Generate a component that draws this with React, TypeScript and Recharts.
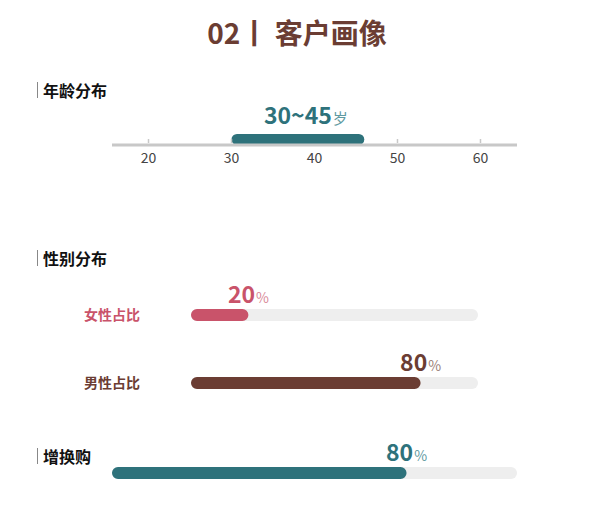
import React from 'react';
import { BarChart, Bar, XAxis, YAxis, Cell, LabelList } from 'recharts';

// age distribution
const ageTicks = [20, 30, 40, 50, 60];
const ageDomain = [15.6, 64.4];
const ageRange = [30, 46];
const ageLabel = '30~45';

// gender split
const genderNames = ['女性占比', '男性占比'];
const genderValues = [20, 80];

// trade-in share
const tradeInNames = ['增换购'];
const tradeInValues = [80];
const tradeInMax = 110;

const TEAL = '#2e727b';
const PINK = '#c9536a';
const BROWN = '#6b3d33';
const TRACK = '#eeeeee';
const genderColors = [PINK, BROWN];
const genderLight = ['#d98a99', '#9a7f78'];

const FONT = "'Noto Sans CJK SC', 'Noto Sans', sans-serif";

const ageData = [{ name: 'age', range: ageRange }];
const genderData = genderNames.map((name, i) => ({ name, value: genderValues[i] }));
const tradeInData = tradeInNames.map((name, i) => ({ name, value: tradeInValues[i] }));

const SectionTitle = ({ text, top }: { text: string; top: number }) => (
  <div style={{ position: 'absolute', left: 37, top, height: 20, display: 'flex', alignItems: 'center' }}>
    <div style={{ width: 1, height: 16, background: '#888' }} />
    <div style={{ marginLeft: 5, fontSize: 16, fontWeight: 700, color: '#111', lineHeight: '20px' }}>{text}</div>
  </div>
);

const AgeTick = (props: any) => {
  const { x, y, payload } = props;
  // the bar hides the tick marks it sits on
  const underBar = payload.value > ageRange[0] && payload.value < ageRange[1];
  return (
    <g>
      {!underBar && <line x1={x} x2={x} y1={y - 8} y2={y - 4} stroke="#c8c8c8" strokeWidth={1.5} />}
      <text x={x} y={y + 16} textAnchor="middle" fontSize={14} fill="#444" fontFamily={FONT}>
        {payload.value}
      </text>
    </g>
  );
};

const AgeLabel = (props: any) => {
  const { x, y, width } = props;
  return (
    <text x={x + width / 2 + 8} y={y - 10} textAnchor="middle" fontFamily={FONT}>
      <tspan fontSize={23} fontWeight={700} fill={TEAL}>{ageLabel}</tspan>
      <tspan fontSize={15} fill="#5f9aa1" dx={1}>岁</tspan>
    </text>
  );
};

const GenderTick = (props: any) => {
  const { x, y, payload, index } = props;
  return (
    <text x={x} y={y} dy={5} textAnchor="end" fontSize={14} fontWeight={700} fill={genderColors[index]} fontFamily={FONT}>
      {payload.value}
    </text>
  );
};

const makeValueLabel = (colors: string[], light: string[]) => (props: any) => {
  const { x, y, width, value, index } = props;
  return (
    <text x={x + width} y={y - 6} textAnchor="middle" fontFamily={FONT}>
      <tspan fontSize={23} fontWeight={700} fill={colors[index]}>{value}</tspan>
      <tspan fontSize={14} fill={light[index]} dx={1}>%</tspan>
    </text>
  );
};

const GenderLabel = makeValueLabel(genderColors, genderLight);
const TradeInLabel = makeValueLabel([TEAL], ['#5f9aa1']);

export default function App() {
  return (
    <div style={{ position: 'absolute', left: 0, top: 0, width: 600, height: 506, background: '#fff', fontFamily: FONT }}>
      <div
        style={{
          position: 'absolute',
          top: 14,
          left: -3,
          width: 600,
          textAlign: 'center',
          fontSize: 28,
          fontWeight: 700,
          color: BROWN,
          lineHeight: '36px',
        }}
      >
        02丨 客户画像
      </div>

      <SectionTitle text="年龄分布" top={80} />
      <div style={{ position: 'absolute', top: 96, left: 0 }}>
        <BarChart width={600} height={79} data={ageData} layout="vertical" margin={{ top: 37, right: 83, bottom: 0, left: 112 }}>
          <XAxis
            type="number"
            domain={ageDomain}
            ticks={ageTicks}
            allowDataOverflow
            axisLine={{ stroke: '#c8c8c8', strokeWidth: 3 }}
            tickLine={false}
            tickSize={0}
            tick={<AgeTick />}
          />
          <YAxis type="category" dataKey="name" hide />
          <Bar dataKey="range" fill={TEAL} barSize={12} radius={6} isAnimationActive={false}>
            <LabelList content={<AgeLabel />} />
          </Bar>
        </BarChart>
      </div>

      <SectionTitle text="性别分布" top={248} />
      <div style={{ position: 'absolute', top: 261, left: 0 }}>
        <BarChart width={600} height={156} data={genderData} layout="vertical" margin={{ top: 20, right: 122, bottom: 0, left: 0 }}>
          <XAxis type="number" domain={[0, 100]} hide />
          <YAxis
            type="category"
            dataKey="name"
            width={191}
            axisLine={false}
            tickLine={false}
            tickSize={0}
            tickMargin={51}
            tick={<GenderTick />}
          />
          <Bar dataKey="value" barSize={12} radius={6} background={{ fill: TRACK, radius: 6 }} isAnimationActive={false}>
            {genderData.map((d, i) => (
              <Cell key={d.name} fill={genderColors[i]} />
            ))}
            <LabelList content={<GenderLabel />} />
          </Bar>
        </BarChart>
      </div>

      <SectionTitle text="增换购" top={446} />
      <div style={{ position: 'absolute', top: 420, left: 0 }}>
        <BarChart width={600} height={86} data={tradeInData} layout="vertical" margin={{ top: 20, right: 83, bottom: 0, left: 112 }}>
          <XAxis type="number" domain={[0, tradeInMax]} hide />
          <YAxis type="category" dataKey="name" hide />
          <Bar dataKey="value" fill={TEAL} barSize={12} radius={6} background={{ fill: TRACK, radius: 6 }} isAnimationActive={false}>
            <LabelList content={<TradeInLabel />} />
          </Bar>
        </BarChart>
      </div>
    </div>
  );
}
